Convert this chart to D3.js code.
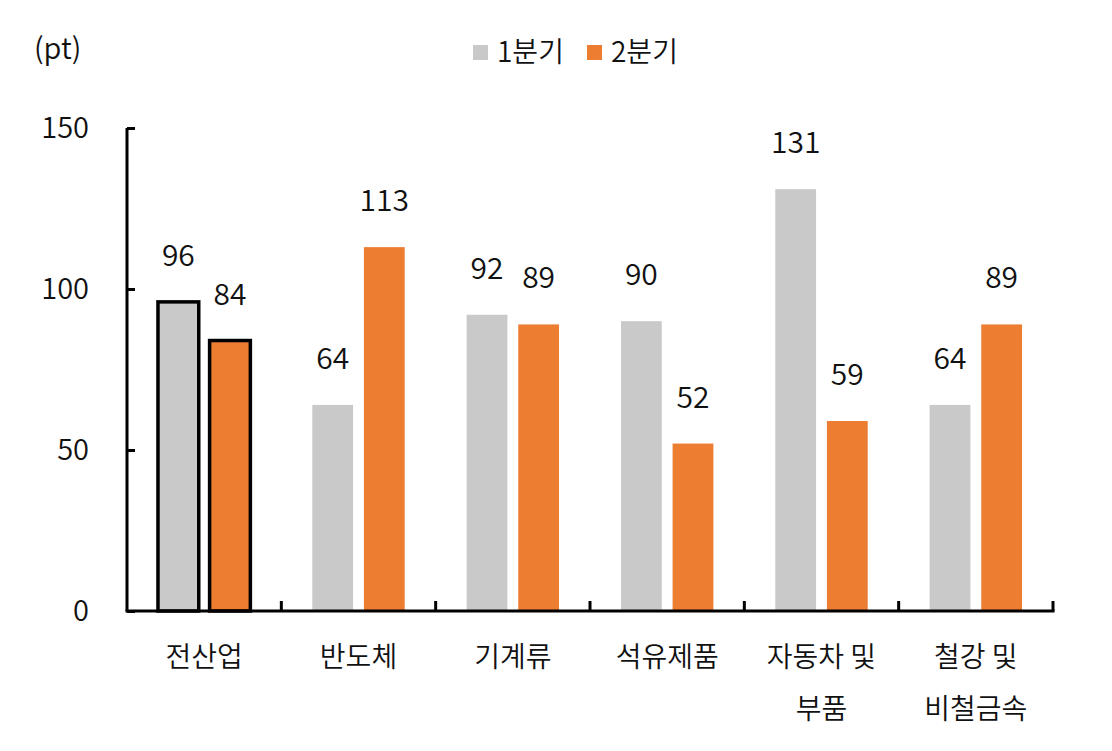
<!DOCTYPE html>
<html>
<head>
<meta charset="utf-8">
<script src="https://cdn.jsdelivr.net/npm/d3@7"></script>
<style>
  body { margin: 0; background: #fff; }
  text { font-family: "Noto Sans CJK KR", "Noto Sans", sans-serif; font-weight: 350; fill: #111; }
</style>
</head>
<body>
<svg id="chart" width="1112" height="751"></svg>
<script>
// data
const categories = ["전산업", "반도체", "기계류", "석유제품", "자동차 및\n부품", "철강 및\n비철금속"];
const seriesNames = ["1분기", "2분기"];
const q1Values = [96, 64, 92, 90, 131, 64];
const q2Values = [84, 113, 89, 52, 59, 89];
const yTicks = [0, 50, 100, 150];
const highlighted = ["전산업"];
const colors = ["#c9c9c9", "#ed7d31"];

const svg = d3.select("#chart");
const plotLeft = 127, plotRight = 1053, plotTop = 128, plotBottom = 611;

//scales
const x0 = d3.scaleBand().domain(categories).range([plotLeft, plotRight]).padding(0);
const x1 = d3.scaleBand().domain(seriesNames).range([0, x0.bandwidth()])
  .paddingInner(0.21).paddingOuter(0.6);
const y = d3.scaleLinear().domain([0, 150]).range([plotBottom, plotTop]);

const rows = categories.map((c, i) => ({
  cat: c,
  vals: [q1Values[i], q2Values[i]]
}));

//bars
const groups = svg.append("g").selectAll("g")
  .data(rows)
  .enter()
  .append("g")
  .attr("transform", d => `translate(${x0(d.cat)},0)`);

groups.selectAll("rect")
  .data(d => d.vals.map((v, j) => ({ cat: d.cat, s: seriesNames[j], v: v, j: j })))
  .enter()
  .append("rect")
  .attr("x", d => x1(d.s))
  .attr("y", d => y(d.v))
  .attr("width", x1.bandwidth())
  .attr("height", d => y(0) - y(d.v))
  .attr("fill", d => colors[d.j])
  .attr("stroke", d => highlighted.includes(d.cat) ? "#000" : "none")
  .attr("stroke-width", 3.5);

//value labels
groups.selectAll("text.val")
  .data(d => d.vals.map((v, j) => ({ s: seriesNames[j], v: v })))
  .enter()
  .append("text")
  .attr("class", "val")
  .attr("x", d => x1(d.s) + x1.bandwidth() / 2)
  .attr("y", d => y(d.v) - 36)
  .attr("text-anchor", "middle")
  .style("font-size", "30px")
  .text(d => d3.format("d")(d.v));

//axisY
const axisY = d3.axisRight(y).tickValues(yTicks).tickSize(8).tickFormat("");
const gy = svg.append("g").attr("transform", `translate(${plotLeft},0)`).call(axisY);
gy.select(".domain").attr("d", `M0,${plotTop}V${plotBottom}`).attr("stroke", "#000").attr("stroke-width", 3);
gy.selectAll(".tick line").attr("stroke", "#000").attr("stroke-width", 3);

svg.append("g").selectAll("text")
  .data(yTicks)
  .enter()
  .append("text")
  .attr("x", 89)
  .attr("y", d => y(d))
  .attr("dy", "0.36em")
  .attr("text-anchor", "end")
  .style("font-size", "29px")
  .text(d => d);

//axisX
const gx = svg.append("g").attr("transform", `translate(0,${plotBottom})`);
gx.append("line")
  .attr("x1", plotLeft - 1.5).attr("x2", plotRight + 1.5)
  .attr("stroke", "#000").attr("stroke-width", 3);
gx.selectAll("line.tk")
  .data(categories.slice(1).concat(["__end"]))
  .enter()
  .append("line")
  .attr("class", "tk")
  .attr("x1", d => d === "__end" ? plotRight : x0(d))
  .attr("x2", d => d === "__end" ? plotRight : x0(d))
  .attr("y1", 0).attr("y2", -10)
  .attr("stroke", "#000").attr("stroke-width", 3);

const catText = gx.selectAll("text")
  .data(categories)
  .enter()
  .append("text")
  .attr("x", d => x0(d) + x0.bandwidth() / 2)
  .attr("y", 56)
  .attr("text-anchor", "middle")
  .style("font-size", "28px");
catText.selectAll("tspan")
  .data(d => d.split("\n"))
  .enter()
  .append("tspan")
  .attr("x", function () { return d3.select(this.parentNode).attr("x"); })
  .attr("dy", (d, i) => i === 0 ? 0 : 52)
  .text(d => d);

//unit
svg.append("text")
  .attr("x", 34).attr("y", 59)
  .style("font-size", "29px")
  .text("(pt)");

//legend
const legend = svg.append("g");
const legX = [473, 587];
seriesNames.forEach((s, i) => {
  legend.append("rect")
    .attr("x", legX[i]).attr("y", 45)
    .attr("width", 15).attr("height", 15)
    .attr("fill", colors[i]);
  legend.append("text")
    .attr("x", legX[i] + 24).attr("y", 62)
    .style("font-size", "28px")
    .text(s);
});
</script>
</body>
</html>
